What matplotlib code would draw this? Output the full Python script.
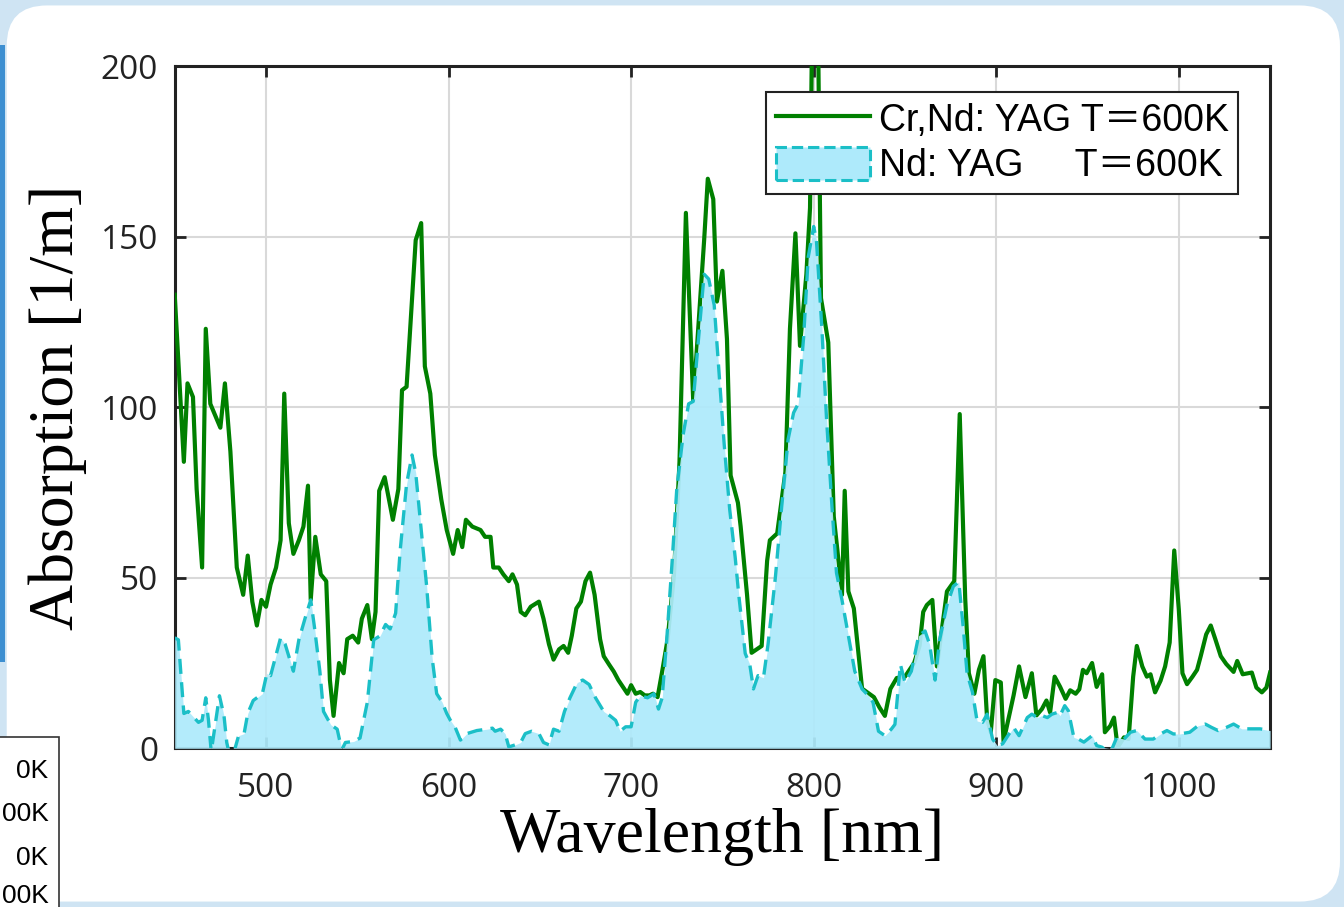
import matplotlib
matplotlib.use("Agg")
from matplotlib import pyplot as plt
from matplotlib.patches import FancyBboxPatch, Rectangle, Patch
from matplotlib.lines import Line2D
import numpy as np

# Cr,Nd:YAG T=600K  (wavelength nm, absorption 1/m)
crnd_wl = [450, 455, 457, 460, 462, 465, 467, 469.5, 475, 477.5, 480.5, 484, 487.5, 490, 492.5,
           495, 497.5, 500, 502.5, 505.5, 508, 510, 512.5, 515, 518, 520.5, 523, 524.5, 527, 530,
           533, 535, 537, 540, 542.5, 544.5, 547.5, 550.5, 552.5, 555.5, 558, 560, 562, 565, 569.5,
           572.5, 574.5, 577, 582, 585, 587, 590, 592.5, 596, 599, 602.5, 605, 607.5, 609.5, 613,
           617.5, 620, 623, 624.5, 627.5, 630, 633, 635, 637.5, 639.5, 642, 645, 649.5, 652, 655,
           657.5, 660.5, 663, 665.5, 667.5, 670, 672.5, 675, 677.5, 680, 683, 685, 688, 690.5, 693,
           698, 700, 702.5, 705, 707.5, 710, 712, 714.5, 717, 720, 723.5, 726.5, 730, 731.5, 734,
           736, 740, 742, 745, 747, 750, 752.5, 754.5, 758.5, 760, 763.5, 766, 771.5, 774.5, 776,
           780, 784.5, 787, 790, 792.5, 796, 798, 799, 802.5, 804, 808, 811, 813, 815.5, 817, 819,
           822, 826.5, 833, 836, 839, 842, 845.5, 850, 855, 858, 860, 862, 865, 867.5, 873, 877,
           880, 883, 885, 888, 890.5, 893, 895, 897, 899.5, 902.5, 904, 909.5, 912.5, 916, 919.5,
           922, 925, 927.5, 929.5, 932, 935, 938, 940.5, 943.5, 945.5, 947.5, 949.5, 952.5, 955,
           958, 959.5, 962.5, 964.5, 966.5, 970, 972.5, 975, 977, 980, 982.5, 984.5, 987, 990,
           992.5, 995, 997.5, 1000, 1002, 1004.5, 1007.5, 1010, 1012, 1015, 1017.5, 1020, 1023,
           1026, 1030, 1032, 1035, 1040, 1042.5, 1045.5, 1048, 1050]
crnd_abs = [133, 84, 107, 103, 76, 53, 123, 101, 94, 107, 87, 53, 45, 56.5, 43,
            36, 43.5, 41.5, 48, 53, 61, 104, 66, 57, 61, 65, 77, 43.5, 62, 51,
            49, 20, 9.5, 25, 22, 32, 33, 31, 38, 42, 32, 40, 75.5, 79.5, 67,
            76, 105, 106, 149, 154, 112, 104, 86, 73, 64, 57, 64, 59, 67, 65,
            64, 62, 62, 53, 53, 51, 49, 51, 48, 40, 39, 41.5, 43, 38, 30.5,
            26, 29, 30, 28, 33, 41, 43, 49, 51.5, 45, 32, 27, 24.5, 22.5, 20,
            16, 18.5, 16, 16.5, 15.5, 15.5, 16, 15, 22.5, 32, 51, 84, 157, 136, 102,
            117, 149, 167, 161, 131, 140, 120, 80, 72, 65, 45, 28, 30, 55, 61,
            63, 81, 123, 151, 118, 139, 158.5, 205, 205, 132, 119, 68, 58, 45, 75.5, 46,
            41, 17.5, 15, 12, 9.5, 17.4, 20.6, 21, 25, 30, 40, 42, 43.5, 24, 46, 49,
            98, 44, 22, 16, 23, 27, 8.5, 4.7, 20, 19.3, 2, 15.5, 24, 15, 22,
            9.6, 11.5, 14, 10.5, 21, 18, 14.5, 17, 16, 17.3, 23, 22, 25, 18,
            21.7, 4.7, 6.6, 9, 0.3, 3.2, 2.7, 21, 30, 24, 21, 21.7, 16.4, 19.8,
            24, 31, 58, 40.7, 22, 18.8, 21, 23, 27, 33.4, 36, 32, 27,
            24.7, 22.4, 25.6, 21.7, 22.2, 17.8, 16.4, 17.8, 22.2]

# Nd:YAG T=600K
nd_wl = [450, 452, 455, 457.5, 463, 465, 467, 468.5, 470, 472, 474.5, 477, 478.5, 480, 482, 485,
         488, 490, 493, 498, 500.5, 502.5, 508, 510.5, 515, 518, 521.5, 524.5, 526.5, 529.5,
         531.5, 535.5, 539, 541.5, 543.5, 548, 551.5, 555.5, 559, 562.5, 565.5, 568, 571, 573.5,
         577, 580, 582, 584.5, 588, 591, 593.5, 596.5, 599, 601, 603.5, 606.5, 610, 615.5, 621,
         624, 625.5, 628.5, 631, 633, 636.5, 639.5, 642, 645.5, 649.5, 652, 655, 657.5, 660.5,
         663.5, 666.5, 670.5, 673.5, 677, 680.5, 685, 688.5, 691.5, 694, 697, 700, 702.5, 705,
         709, 712.5, 715, 717, 719.5, 722.5, 725, 728.5, 731.5, 734, 737, 740, 742.5, 745.5, 748,
         751, 754, 757, 759, 762.5, 765, 767, 769.5, 772.5, 775, 779, 782.5, 786, 789, 791.5,
         794.5, 797, 800, 801.5, 804.5, 807, 810, 812.5, 815.5, 819, 822.5, 826.5, 830, 832.5,
         835.5, 839, 842.5, 844.5, 847.5, 850, 853.5, 857.5, 861, 863.5, 866.5, 869, 873, 876.5,
         879.5, 882, 884, 887, 889.5, 892.5, 895, 898, 900.5, 903.5, 907, 909.5, 912.5, 917,
         919.5, 922.5, 925, 928, 930.5, 933.5, 935, 937.5, 939.5, 942.5, 945, 948, 952.5, 955,
         958, 962, 966, 970, 973.5, 977, 981.5, 986, 990, 993.5, 997, 1000.5, 1006, 1010.5,
         1014.5, 1018, 1021.5, 1026, 1030, 1034.5, 1039, 1044.5, 1050]
nd_abs = [32.4, 31.8, 10.2, 10.8, 7.6, 8.2, 14.8, 8.2, -1, 6.3, 15.4, 9.5, 1.7, -2, -2, 3.7,
          4.3, 10.2, 14, 16, 22, 21.3, 32.4, 30.5, 22.6, 31.8, 38.3, 43.5, 35.7, 22.6,
          10.8, 6.9, 5.6, -0.5, 1.7, 2, 3, 13.5, 31.8, 33, 36.3, 35, 39.6, 58,
          77.5, 86, 80.8, 67, 47.5, 26.5, 16, 13.5, 10.2, 8.2, 6.3, 2.4, 4.3, 5.2, 5.6,
          5.9, 5, 5.6, 4.3, 0.4, 1, 1.7, 4.3, 5, 4.3, 1.7, 1, 5.6, 5,
          10.8, 14.8, 19.3, 20, 18.7, 14.8, 10.8, 9.5, 8.2, 5, 6.3, 6.3, 13.5, 15.4,
          14.8, 16, 11.5, 14.8, 31.8, 55, 76, 92, 101, 101.7, 120.6, 139, 137.6, 130, 111.5,
          89, 70, 56, 44.8, 27.8, 24.6, 17.4, 21.3, 20.7, 30.5, 50, 71, 90.6, 98.4, 101,
          120.6, 144, 153, 149, 123, 97, 71, 51.4, 43.5, 33, 22.6, 17.4, 15.4, 13.5,
          5, 3.7, 5.6, 7, 24.6, 19.3, 22.6, 33, 34.4, 30.5, 20, 31.8, 42, 47.5,
          48.8, 35, 22, 16.4, 8, 7.6, 10, 2.7, 0.8, 1.3, 4.2, 6.1, 3.7, 9,
          10, 9, 9.6, 9, 10, 10.5, 9.6, 12.5, 11, 3.2, 2.7, 1.8, 3.7, 0.8,
          0.3, -2, 3.2, 2.7, 4.7, 5.2, 2.7, 2.7, 4.2, 5.2, 4.2, 4.2, 4.7, 6.6,
          7.1, 6.1, 5.2, 6.1, 7.1, 5.7, 5.7, 5.7, 5.2]

x_ticks = [500, 600, 700, 800, 900, 1000]
y_ticks = [0, 50, 100, 150, 200]
labels = ["Cr,Nd: YAG T＝600K", "Nd: YAG     T＝600K"]

green = "#008000"
cyan_line = "#1bbfc7"
cyan_fill = "#aeeafb"

fig = plt.figure(figsize=(13.44, 9.07), dpi=100)
fig.patch.set_facecolor("#cfe4f3")

# slide panel behind the chart
panel = FancyBboxPatch((0.005, 0.006), 0.992, 0.988, transform=fig.transFigure,
                       boxstyle="round,pad=0,rounding_size=0.03", mutation_aspect=1344 / 907,
                       facecolor="white", edgecolor="none", zorder=-10)
fig.patches.append(panel)
fig.patches.append(Rectangle((0.0, 0.27), 0.004, 0.68, transform=fig.transFigure,
                             facecolor="#3d8fd1", edgecolor="none", zorder=-9))
# cut-off legend of a neighbouring chart
fig.patches.append(Rectangle((-0.01, -0.01), 0.054, 0.197, transform=fig.transFigure,
                             facecolor="white", edgecolor="#333333", linewidth=1.2, zorder=-8))
for yy, s in zip([0.150, 0.103, 0.054, 0.012], ["0K", "00K", "0K", "00K"]):
    fig.text(0.036, yy, s, ha="right", va="center", fontsize=19, family="Liberation Sans")

ax = fig.add_axes([0.130, 0.175, 0.815, 0.752])

ax.plot(crnd_wl, crnd_abs, color=green, linewidth=3.0, zorder=3)
nd = np.array(nd_abs)
ax.fill_between(nd_wl, 0, np.clip(nd, 0, None), color=cyan_fill, alpha=0.93,
                linewidth=0, zorder=4)
ax.plot(nd_wl, nd_abs, color=cyan_line, linewidth=2.4, linestyle=(0, (4.5, 2.5)), zorder=5)

ax.set_xlim(450, 1050)
ax.set_ylim(0, 200)
ax.set_xticks(x_ticks)
ax.set_yticks(y_ticks)
ax.set_xticklabels([str(v) for v in x_ticks], family="Open Sans", fontsize=24)
ax.set_yticklabels([str(v) for v in y_ticks], family="Open Sans", fontsize=24)
ax.grid(True, color="#d9d9d9", linewidth=1.5)
ax.set_axisbelow(True)
for sp in ax.spines.values():
    sp.set_linewidth(2.2)
    sp.set_color("#222222")
ax.tick_params(direction="in", length=8, width=2, top=True, right=True, colors="#222222")
ax.tick_params(axis="x", pad=17)
ax.tick_params(axis="y", pad=12)

ax.set_xlabel("Wavelength [nm]", family="Liberation Serif", fontsize=46, labelpad=2)
ax.set_ylabel("Absorption [1/m]", family="Liberation Serif", fontsize=46, labelpad=10)

handles = [Line2D([], [], color=green, linewidth=3),
           Patch(facecolor=cyan_fill, edgecolor=cyan_line, linestyle="--", linewidth=2.2)]
leg = ax.legend(handles, labels, loc="upper right", bbox_to_anchor=(0.971, 0.962),
                prop={"family": ["Liberation Sans", "Noto Sans CJK JP"], "size": 27},
                fancybox=False, framealpha=1, edgecolor="#222222", handlelength=2.5,
                handleheight=1.0, borderpad=0.25, labelspacing=0.2, handletextpad=0.25,
                borderaxespad=0)
leg.get_frame().set_linewidth(1.5)
leg.set_zorder(10)

plt.savefig("out.png", dpi=100, facecolor=fig.get_facecolor())
